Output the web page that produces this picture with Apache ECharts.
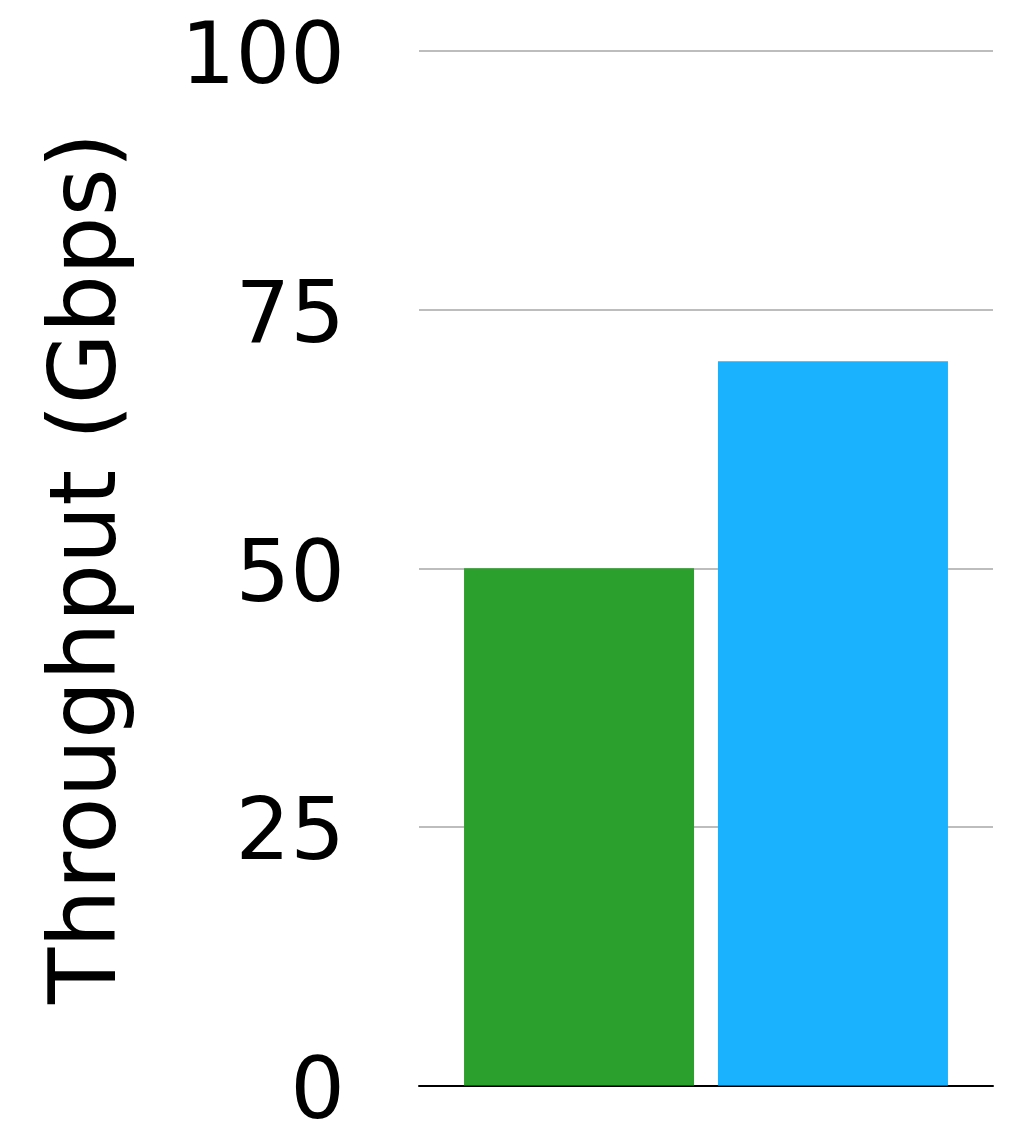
<!DOCTYPE html>
<html>
<head>
<meta charset="utf-8">
<script src="https://cdn.jsdelivr.net/npm/echarts@6/dist/echarts.min.js"></script>
<style>html,body{margin:0;padding:0;background:#fff}#c{width:1031px;height:1126px}</style>
</head>
<body>
<div id="c"></div>
<script>
const categories = [''];
const seriesNames = ['Green', 'Blue'];
const greenValues = [50];
const blueValues = [70];
const yTicks = [0, 25, 50, 75, 100];
const yTitle = 'Throughput (Gbps)';

const FONT = 'DejaVu Sans';
const chart = echarts.init(document.getElementById('c'), null, {renderer: 'canvas'});
chart.setOption({
  animation: false,
  backgroundColor: '#ffffff',
  grid: {left: 419, right: 38, top: 51, bottom: 40.5, containLabel: false, outerBoundsMode: 'none'},
  xAxis: {
    type: 'category',
    data: categories,
    axisLine: {show: true, lineStyle: {color: '#000', width: 2}},
    axisTick: {show: false},
    axisLabel: {show: false},
    splitLine: {show: false}
  },
  yAxis: {
    type: 'value',
    min: yTicks[0],
    max: yTicks[yTicks.length - 1],
    interval: 25,
    name: yTitle,
    nameLocation: 'middle',
    nameRotate: 90,
    nameGap: 282,
    nameTextStyle: {fontFamily: FONT, fontSize: 92, color: '#000'},
    axisLine: {show: false},
    axisTick: {show: false},
    axisLabel: {fontFamily: FONT, fontSize: 86, color: '#000', margin: 74,
                verticalAlign: 'top', lineHeight: 20},
    splitLine: {show: true, lineStyle: {color: '#bdbdbd', width: 2}}
  },
  series: [
    {name: seriesNames[0], type: 'bar', data: greenValues, barWidth: 230, barGap: '10.4%',
     itemStyle: {color: '#2ca02c'}},
    {name: seriesNames[1], type: 'bar', data: blueValues, barWidth: 230, barGap: '10.4%',
     itemStyle: {color: '#1ab2ff'}}
  ]
});
</script>
</body>
</html>
